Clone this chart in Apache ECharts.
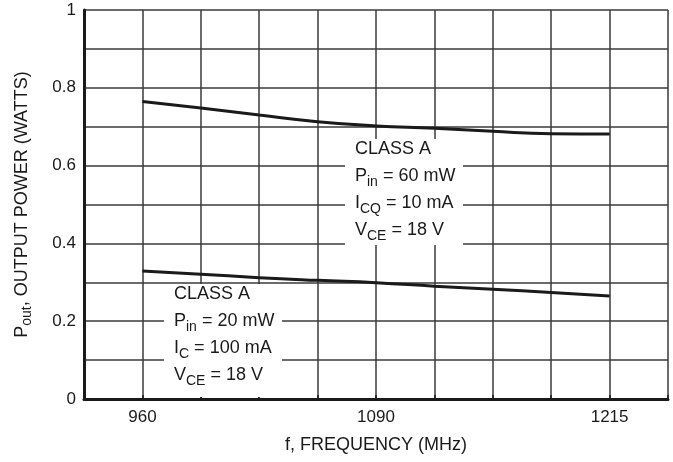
<!DOCTYPE html>
<html>
<head>
<meta charset="utf-8">
<script src="https://cdn.jsdelivr.net/npm/echarts@6/dist/echarts.min.js"></script>
<style>
  html, body { margin: 0; padding: 0; background: #fff; }
  #chart { width: 673px; height: 462px; }
</style>
</head>
<body>
<div id="chart"></div>
<script>
// the printed frequency axis is not uniform (960..1090 and 1090..1215 span 4 divisions each),
// so x is kept in grid divisions and labelled from freqLabels
const freqLabels = ['', '960', '', '', '', '1090', '', '', '', '1215', '']
const powerLabels = ['0', '', '0.2', '', '0.4', '', '0.6', '', '0.8', '', '1']
const divisions = [1, 2, 3, 4, 5, 6, 7, 8, 9]
// Pin = 60 mW, ICQ = 10 mA
const pout60 = [0.765, 0.748, 0.730, 0.713, 0.702, 0.696, 0.688, 0.682, 0.681]
// Pin = 20 mW, IC = 100 mA
const pout20 = [0.329, 0.321, 0.312, 0.305, 0.299, 0.290, 0.282, 0.274, 0.265]

const FONT = '"Liberation Sans", Arial, sans-serif'
const ink = '#1a1a1a'
const gridColor = '#3a3a3a'

function pairs (xs, ys) {
  return xs.map((x, i) => [x, ys[i]])
}

const rich = {
  n: { fontFamily: FONT, fontSize: 18, color: ink, lineHeight: 27 },
  s: { fontFamily: FONT, fontSize: 14, color: ink, lineHeight: 17, verticalAlign: 'bottom' }
}

function noteBox (left, top, w, h, lines) {
  return [
    {
      type: 'rect',
      left: left,
      top: top,
      shape: { width: w, height: h },
      style: { fill: '#fff' },
      z: 10
    },
    {
      type: 'text',
      left: left + 10,
      top: top + 1,
      style: { text: lines.join('\n'), rich: rich, fontFamily: FONT, fontSize: 18, fill: ink },
      z: 11
    }
  ]
}

const chart = echarts.init(document.getElementById('chart'))
chart.setOption({
  animation: false,
  grid: { left: 84, right: 5, top: 10, bottom: 63, containLabel: false },
  xAxis: {
    type: 'value',
    min: 0,
    max: 10,
    interval: 1,
    name: 'f, FREQUENCY (MHz)',
    nameLocation: 'middle',
    nameGap: 37,
    nameTextStyle: { fontFamily: FONT, fontSize: 18, color: ink },
    axisLine: { onZero: false, lineStyle: { color: ink, width: 3 } },
    axisTick: { show: true, inside: true, length: 4, lineStyle: { color: ink, width: 1.5 } },
    axisLabel: {
      margin: 10,
      fontFamily: FONT,
      fontSize: 17,
      color: ink,
      formatter: v => freqLabels[Math.round(v)]
    },
    splitLine: { show: true, lineStyle: { color: gridColor, width: 1.5 } }
  },
  yAxis: {
    type: 'value',
    min: 0,
    max: 1,
    interval: 0.1,
    name: '{a|P}{b|out}{a|, OUTPUT POWER (WATTS)}',
    nameLocation: 'middle',
    nameRotate: 90,
    nameGap: 50,
    nameTextStyle: {
      rich: {
        a: { fontFamily: FONT, fontSize: 18, color: ink, lineHeight: 24 },
        b: { fontFamily: FONT, fontSize: 14, color: ink, lineHeight: 15, verticalAlign: 'bottom' }
      }
    },
    axisLine: { show: true, lineStyle: { color: ink, width: 3 } },
    axisTick: { show: false },
    axisLabel: {
      margin: 8,
      fontFamily: FONT,
      fontSize: 17,
      color: ink,
      formatter: (v) => powerLabels[Math.round(v * 10)]
    },
    splitLine: { show: true, lineStyle: { color: gridColor, width: 1.5 } }
  },
  series: [
    {
      name: 'Pin = 60 mW',
      type: 'line',
      data: pairs(divisions, pout60),
      smooth: 0.5,
      symbol: 'none',
      lineStyle: { color: ink, width: 3 },
      z: 5
    },
    {
      name: 'Pin = 20 mW',
      type: 'line',
      data: pairs(divisions, pout20),
      smooth: 0.5,
      symbol: 'none',
      lineStyle: { color: ink, width: 3 },
      z: 5
    }
  ],
  graphic: [
    ...noteBox(345, 139, 118, 106, [
      '{n|CLASS A}',
      '{n|P}{s|in}{n| = 60 mW}',
      '{n|I}{s|CQ}{n| = 10 mA}',
      '{n|V}{s|CE}{n| = 18 V}'
    ]),
    ...noteBox(164, 284, 118, 113, [
      '{n|CLASS A}',
      '{n|P}{s|in}{n| = 20 mW}',
      '{n|I}{s|C}{n| = 100 mA}',
      '{n|V}{s|CE}{n| = 18 V}'
    ])
  ]
})
</script>
</body>
</html>
